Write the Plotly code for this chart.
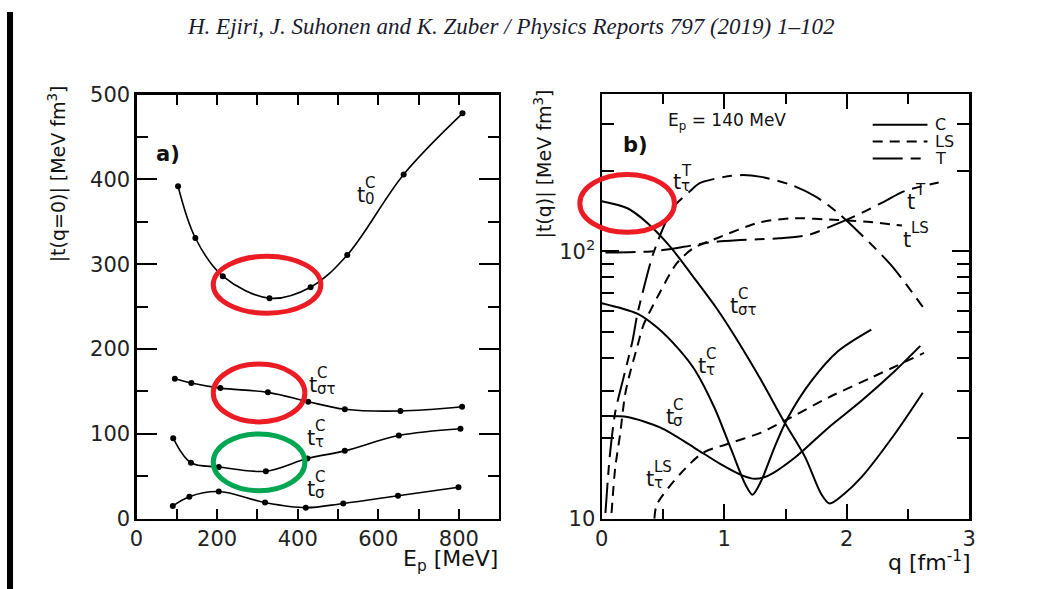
import plotly.graph_objects as go

# The photographed region is slightly larger than the page and is resized to the window;
# layout positions below are given in reference-picture pixels and mapped onto the figure.
SX, SY = 1049 / 1059, 589 / 612
OX, OY = 6, 10.5
W, H = 1054, 602

# ---------------- Panel a data: |t(q=0)| vs Ep ----------------
E_t0 = [103, 146, 214, 330, 432, 523, 663, 809]
t0_C = [392, 331, 286, 260, 273, 311, 406, 478]
E_tst = [95, 136, 208, 326, 426, 517, 655, 808]
tst_C = [165, 160, 154, 149, 138, 129, 127, 132]
E_tt = [91, 135, 204, 321, 424, 517, 651, 804]
tt_C = [95, 66, 61, 56, 71, 80, 98, 106]
E_ts = [90, 131, 204, 319, 420, 513, 649, 799]
ts_C = [15, 26, 32, 19, 13, 18, 27, 37]

# ---------------- Panel b data: |t(q)| at Ep = 140 MeV ----------------
q_tstC = [0, 0.21, 0.37, 0.56, 0.75, 0.94, 1.1, 1.3, 1.49, 1.66, 1.79, 1.86, 1.98, 2.12, 2.39, 2.62]
v_tstC = [154, 145, 128, 104, 80, 61, 47, 33, 23, 17, 12.4, 11.4, 12.4, 14.3, 20.7, 29.6]
q_ttC = [0, 0.29, 0.45, 0.63, 0.76, 0.92, 1.06, 1.17, 1.23, 1.30, 1.41, 1.52, 1.71, 1.93, 2.2]
v_ttC = [64, 58.5, 52, 43, 36, 26, 18, 13.5, 12.3, 13.8, 18.5, 23.9, 32.7, 42.4, 51]
q_tsC = [0, 0.21, 0.48, 0.75, 0.97, 1.15, 1.25, 1.36, 1.575, 1.85, 2.12, 2.39, 2.6]
v_tsC = [24.2, 24, 21.9, 18.5, 16, 14.5, 14.1, 14.5, 16.9, 21.9, 27.6, 35.6, 44.3]
q_ttT = [0.03, 0.065, 0.11, 0.18, 0.25, 0.29, 0.35, 0.42, 0.52, 0.6, 0.72, 0.8, 1.0, 1.15, 1.3, 1.55, 1.75, 1.93, 2.09, 2.36, 2.62]
v_ttT = [10.5, 17, 25, 34, 46, 58, 75, 98, 128, 149, 168, 180, 190, 193, 190, 177, 160, 139, 119, 89, 62]
q_tT = [0.03, 0.4, 0.67, 0.88, 1.1, 1.28, 1.45, 1.68, 1.87, 2.09, 2.31, 2.47, 2.75]
v_tT = [99, 100, 104, 108, 110, 111, 112, 115, 124, 137, 154, 168, 181]
q_tLS = [0.08, 0.11, 0.15, 0.19, 0.23, 0.29, 0.34, 0.42, 0.48, 0.61, 0.75, 0.94, 1.28, 1.55, 1.93, 2.17, 2.45]
v_tLS = [10.5, 15.5, 20.7, 29, 35, 44, 53, 63, 71, 90, 103, 112, 128, 133, 131, 129, 125]
q_ttLS = [0.43, 0.45, 0.64, 0.83, 1.02, 1.3, 1.52, 1.85, 2.2, 2.63]
v_ttLS = [10, 11.3, 14.7, 17.7, 19, 21, 23.6, 28.4, 33.7, 41.7]

TEXT = "#111111"
FONT = "DejaVu Sans"
DASH_LS = "10px,7px"
DASH_T = "30px,8px,10px,8px"

fig = go.Figure()

# panel a traces
for xs, ys in [(E_t0, t0_C), (E_tst, tst_C), (E_tt, tt_C), (E_ts, ts_C)]:
    fig.add_trace(go.Scatter(x=xs, y=ys, mode="lines+markers", xaxis="x", yaxis="y",
                             line=dict(color="black", width=1.6, shape="spline", smoothing=1.0),
                             marker=dict(color="black", size=6), showlegend=False, hoverinfo="skip"))

# panel b traces
for xs, ys, dash in [(q_tstC, v_tstC, "solid"), (q_ttC, v_ttC, "solid"), (q_tsC, v_tsC, "solid"),
                     (q_ttT, v_ttT, DASH_T), (q_tT, v_tT, DASH_T),
                     (q_tLS, v_tLS, DASH_LS), (q_ttLS, v_ttLS, DASH_LS)]:
    fig.add_trace(go.Scatter(x=xs, y=ys, mode="lines", xaxis="x2", yaxis="y2",
                             line=dict(color="black", width=2, dash=dash, shape="spline", smoothing=0.8),
                             showlegend=False, hoverinfo="skip"))

def px_x(p):
    # reference-picture x pixel -> paper fraction
    return max(0.0, (p / SX - OX) / W)

def px_y(p):
    # reference-picture y pixel -> paper fraction
    return 1 - (p / SY - OY) / H

axis_common = dict(showline=True, linecolor="black", linewidth=2.2, mirror="allticks",
                   ticks="inside", tickcolor="black", tickwidth=2, showgrid=False, zeroline=False,
                   tickfont=dict(family=FONT, size=21, color="#222"))

fig.update_layout(
    width=W, height=H, margin=dict(l=0, r=0, t=0, b=0),
    paper_bgcolor="white", plot_bgcolor="white",
    xaxis=dict(domain=[px_x(136), px_x(500)], anchor="y", range=[0, 900], tick0=0, dtick=200, ticklen=10,
               minor=dict(dtick=100, ticks="inside", ticklen=10, tickwidth=2, tickcolor="black"),
               **axis_common),
    yaxis=dict(domain=[px_y(518), px_y(93)], anchor="x", range=[0, 500], tick0=0, dtick=100, ticklen=20,
               minor=dict(dtick=50, ticks="inside", ticklen=11, tickwidth=2, tickcolor="black"),
               **axis_common),
    xaxis2=dict(domain=[px_x(603), px_x(972)], anchor="y2", range=[0, 3], tick0=0, dtick=1, ticklen=15,
                minor=dict(dtick=0.5, ticks="inside", ticklen=10, tickwidth=2, tickcolor="black"),
                **axis_common),
    yaxis2=dict(domain=[px_y(518), px_y(92)], anchor="x2", type="log", range=[1, 2.59],
                tickvals=[10, 100], ticktext=["10", "10<sup>2</sup>"], ticklen=17,
                minor=dict(tickvals=[20, 30, 40, 50, 60, 70, 80, 90, 200, 300], ticks="inside",
                           ticklen=12, tickwidth=2, tickcolor="black"),
                **axis_common),
)

ann = []
def add_text(px, py, text, size=19, xanchor="left", yanchor="middle", textangle=0, family=FONT, color=TEXT):
    ann.append(dict(x=px_x(px), y=px_y(py), xref="paper", yref="paper", text=text, showarrow=False,
                    xanchor=xanchor, yanchor=yanchor, textangle=textangle,
                    font=dict(family=family, size=size, color=color)))

def tlabel(px, py, sup, sub):
    add_text(px, py, "t", size=21)
    if sup:
        add_text(px + 8, py - 12, sup, size=15)
    if sub:
        add_text(px + 8, py + 4, sub, size=15)

# header
add_text(512, 25, "<i>H. Ejiri, J. Suhonen and K. Zuber / Physics Reports 797 (2019) 1–102</i>",
         size=23, xanchor="center", family="Liberation Serif", color="#1b1b2e")

# axis titles
add_text(57, 172, "|t(q=0)| [MeV fm<sup>3</sup>]", size=19, xanchor="center", textangle=-90)
add_text(501, 560, "E<sub>p</sub> [MeV]", size=22, xanchor="right")
add_text(545, 162, "|t(q)| [MeV fm<sup>3</sup>]", size=19, xanchor="center", textangle=-90)
add_text(976, 560, "q [fm<sup>-1</sup>]", size=22, xanchor="right")

# panel tags
add_text(154, 152, "<b>a)</b>", size=21)
add_text(622, 143, "<b>b)</b>", size=21)
add_text(668, 120, "E<sub>p</sub> = 140 MeV", size=17)

# curve labels panel a
tlabel(355, 194, "C", "0")
tlabel(307, 384, "C", "στ")
tlabel(305, 437, "C", "τ")
tlabel(305, 488, "C", "σ")
# curve labels panel b
tlabel(673, 181, "T", "τ")
tlabel(907, 201, "T", None)
tlabel(903, 239, "LS", None)
tlabel(730, 305, "C", "στ")
tlabel(698, 365, "C", "τ")
tlabel(665, 416, "C", "σ")
tlabel(645, 478, "LS", "τ")

# legend labels
for py, lab in [(123, "C"), (140, "LS"), (157, "T")]:
    add_text(936, py, lab, size=16)

shapes = []
# scan border (left edge)
shapes.append(dict(type="rect", xref="paper", yref="paper", x0=0, x1=px_x(12), y0=0, y1=1,
                   fillcolor="black", line=dict(width=0), layer="above"))
# legend lines
for py, dash in [(123, "solid"), (140, DASH_LS), (157, DASH_T)]:
    shapes.append(dict(type="line", xref="paper", yref="paper", x0=px_x(875), x1=px_x(930),
                       y0=px_y(py), y1=px_y(py), line=dict(color="black", width=2, dash=dash)))
# highlight ellipses
for x0, x1, y0, y1, col in [(213, 321, 255, 312, "#ec1c24"), (213, 305, 363, 421, "#ec1c24"),
                            (213, 305, 433, 490, "#00a651"), (581, 676, 173, 231, "#ec1c24")]:
    shapes.append(dict(type="circle", xref="paper", yref="paper", x0=px_x(x0), x1=px_x(x1),
                       y0=px_y(y1), y1=px_y(y0), line=dict(color=col, width=5), layer="above"))

fig.update_layout(annotations=ann, shapes=shapes)

post = ("document.documentElement.style.margin='0';document.body.style.margin='0';"
        "document.body.style.padding='0';document.body.style.overflow='hidden';")
fig.write_html("out.html", config={"displayModeBar": False, "staticPlot": True}, post_script=post)
